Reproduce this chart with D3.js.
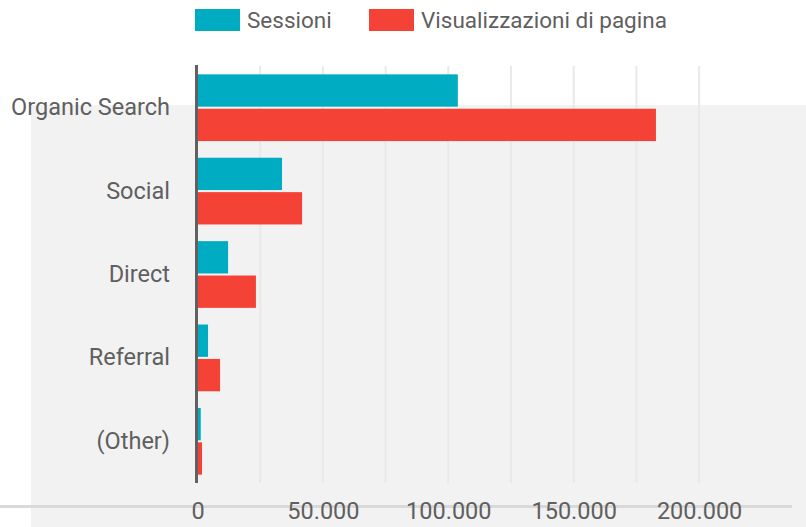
<!DOCTYPE html>
<html>
<head>
<meta charset="utf-8">
<script src="https://cdn.jsdelivr.net/npm/d3@7"></script>
<style>
  body { margin: 0; background: #fff; }
  text { font-family: Roboto, "Noto Sans", sans-serif; fill: #5f5f5f; }
</style>
</head>
<body>
<div id="chart"></div>
<script>
const categories = ["Organic Search", "Social", "Direct", "Referral", "(Other)"];
const seriesNames = ["Sessioni", "Visualizzazioni di pagina"];
const sessioni = [103800, 33700, 12200, 4200, 1300];
const visualizzazioni = [182800, 41700, 23300, 9000, 1800];
const gridTicks = [25000, 50000, 75000, 100000, 125000, 150000, 175000, 200000];
const labelTicks = [0, 50000, 100000, 150000, 200000];
const colors = ["#00acc1", "#f44336"];

let width = 806, height = 527;

let svg = d3.select("#chart").append("svg")
    .attr("width", width)
    .attr("height", height);

// grey panel behind the lower part
svg.append("rect")
    .attr("x", 31)
    .attr("y", 105)
    .attr("width", width - 31)
    .attr("height", height - 105)
    .style("fill", "#f2f2f2");

let x = d3.scaleLinear()
    .domain([0, 225000])
    .range([197.5, 761.8]);

let y = d3.scaleBand()
    .domain(categories)
    .range([66, 483])
    .paddingInner(0.2)
    .paddingOuter(0.1);

let sub = d3.scaleBand()
    .domain(seriesNames)
    .range([0, y.bandwidth()])
    .paddingInner(0.06);

// gridlines
svg.append("g")
    .selectAll("line")
    .data(gridTicks)
    .join("line")
    .attr("x1", d => x(d))
    .attr("x2", d => x(d))
    .attr("y1", 66)
    .attr("y2", 483)
    .style("stroke", "#e9e9e9")
    .style("stroke-width", 2);

// bars
let rows = categories.map((c, i) => ({ cat: c, vals: [sessioni[i], visualizzazioni[i]] }));

let groups = svg.append("g")
    .selectAll("g")
    .data(rows)
    .join("g")
    .attr("transform", d => "translate(0," + y(d.cat) + ")");

groups.selectAll("rect")
    .data(d => d.vals.map((v, j) => ({ name: seriesNames[j], v: v, j: j })))
    .join("rect")
    .attr("x", x(0))
    .attr("y", d => sub(d.name))
    .attr("width", d => x(d.v) - x(0))
    .attr("height", sub.bandwidth())
    .style("fill", d => colors[d.j]);

// zero axis line
svg.append("line")
    .attr("x1", x(0) - 1)
    .attr("x2", x(0) - 1)
    .attr("y1", 65)
    .attr("y2", 483)
    .style("stroke", "#616161")
    .style("stroke-width", 3);

// category labels
let yAxis = d3.axisLeft(y).tickSize(0).tickPadding(0);
svg.append("g")
    .attr("transform", "translate(170,0)")
    .call(yAxis)
    .call(g => g.select(".domain").remove())
    .selectAll("text")
    .style("font-size", "23.5px")
    .style("fill", "#5f5f5f")
    .style("font-family", "Roboto, sans-serif");

// bottom line
svg.append("line")
    .attr("x1", 0)
    .attr("x2", 792)
    .attr("y1", 506.5)
    .attr("y2", 506.5)
    .style("stroke", "#d9d9d9")
    .style("stroke-width", 3);

// value labels
let fmt = d3.formatLocale({ decimal: ",", thousands: ".", grouping: [3], currency: ["", "€"] }).format(",d");
let xAxis = d3.axisBottom(x).tickValues(labelTicks).tickFormat(fmt).tickSize(0).tickPadding(0);
svg.append("g")
    .attr("transform", "translate(0,502)")
    .call(xAxis)
    .call(g => g.select(".domain").remove())
    .selectAll("text")
    .style("font-size", "23.5px")
    .style("fill", "#5f5f5f")
    .style("font-family", "Roboto, sans-serif");

// legend
let legend = svg.append("g");
let legendX = [195, 369];
seriesNames.forEach((n, i) => {
    legend.append("rect")
        .attr("x", legendX[i])
        .attr("y", 9)
        .attr("width", 45)
        .attr("height", 22)
        .style("fill", colors[i]);
    legend.append("text")
        .attr("x", legendX[i] + 52)
        .attr("y", 28)
        .style("font-size", "22.5px")
        .text(n);
});
</script>
</body>
</html>
